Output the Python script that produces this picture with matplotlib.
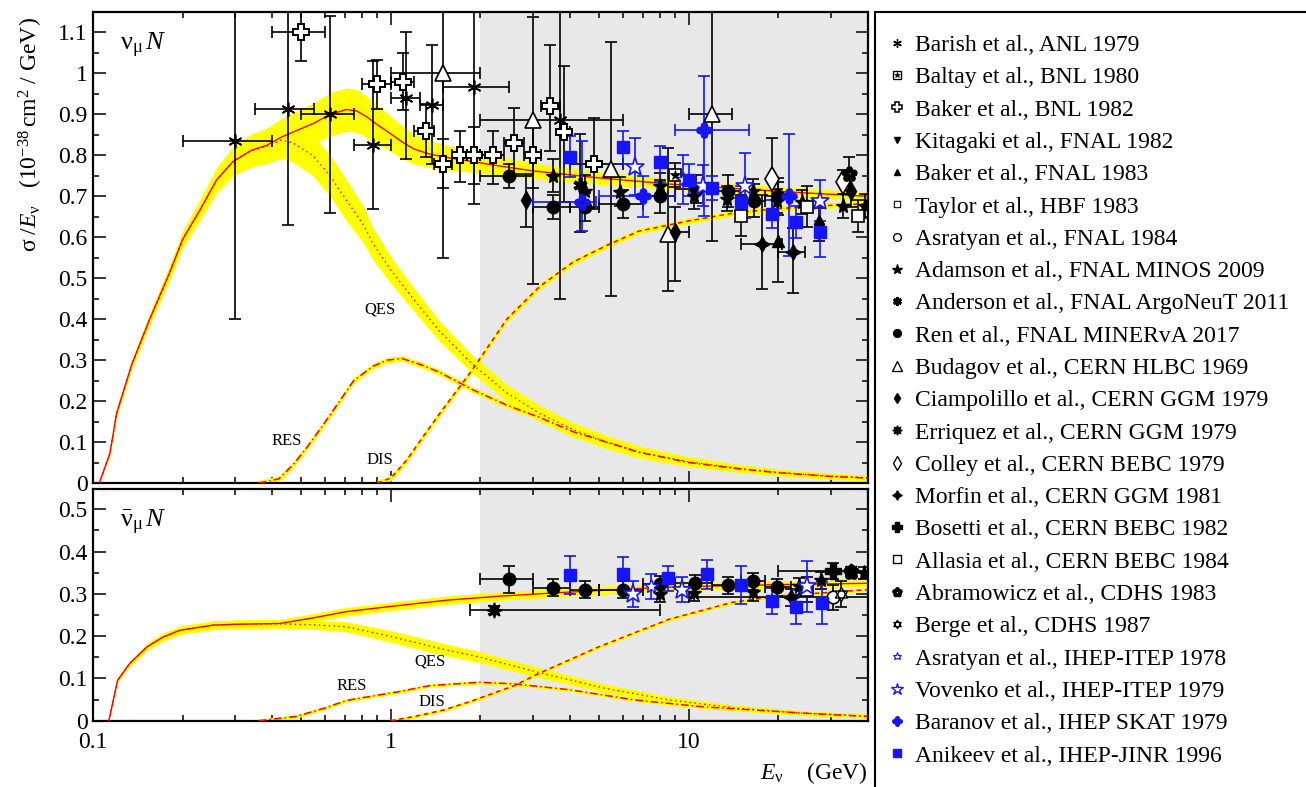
import numpy as np
import matplotlib
matplotlib.use('Agg')
import matplotlib.pyplot as plt
from matplotlib.path import Path
from matplotlib.lines import Line2D
from matplotlib.patches import Rectangle
from matplotlib.ticker import FixedLocator, FuncFormatter, NullFormatter, LogLocator

plt.rcParams['font.family'] = ['Liberation Serif', 'DejaVu Serif']
plt.rcParams['mathtext.fontset'] = 'custom'
plt.rcParams['mathtext.rm'] = 'Liberation Serif'
plt.rcParams['mathtext.it'] = 'Liberation Serif:italic'
plt.rcParams['mathtext.bf'] = 'Liberation Serif:bold'

# ---- theory curves, nu_mu N ----
tot_nu_E = [0.105, 0.114, 0.12, 0.135, 0.155, 0.18, 0.2, 0.23, 0.26, 0.295, 0.34, 0.384, 0.43,
            0.47, 0.55, 0.625, 0.71, 0.77, 0.83, 0.9, 0.98, 1.08, 1.19, 1.35, 1.54, 1.8, 2.27,
            3.0, 5.0, 8.6, 15, 25, 40]
tot_nu = [0, 0.073, 0.17, 0.29, 0.40, 0.51, 0.595, 0.67, 0.74, 0.785, 0.812, 0.825, 0.845,
          0.857, 0.878, 0.90, 0.912, 0.908, 0.894, 0.875, 0.857, 0.835, 0.816, 0.803, 0.795,
          0.787, 0.775, 0.762, 0.745, 0.73, 0.718, 0.708, 0.70]
tot_nu_bw = [0, 0.005, 0.008, 0.01, 0.013, 0.017, 0.02, 0.025, 0.03, 0.035, 0.04, 0.042, 0.045,
             0.047, 0.05, 0.053, 0.053, 0.052, 0.05, 0.047, 0.044, 0.04, 0.037, 0.033, 0.03,
             0.027, 0.023, 0.02, 0.016, 0.013, 0.012, 0.011, 0.01]

qes_nu_E = [0.105, 0.114, 0.12, 0.135, 0.155, 0.18, 0.2, 0.23, 0.26, 0.295, 0.34, 0.384, 0.43,
            0.47, 0.547, 0.625, 0.71, 0.81, 0.87, 1.0, 1.13, 1.3, 1.46, 1.88, 2.45, 3.16, 4.1,
            5.3, 6.8, 10, 15, 20, 30, 40]
qes_nu = [0, 0.073, 0.17, 0.29, 0.40, 0.51, 0.595, 0.67, 0.74, 0.785, 0.812, 0.822, 0.838,
          0.83, 0.80, 0.75, 0.69, 0.63, 0.585, 0.52, 0.47, 0.415, 0.37, 0.29, 0.22, 0.17, 0.13,
          0.10, 0.076, 0.052, 0.035, 0.026, 0.017, 0.013]
qes_nu_bw = [0, 0.005, 0.008, 0.01, 0.013, 0.017, 0.02, 0.025, 0.03, 0.035, 0.04, 0.042, 0.045,
             0.047, 0.05, 0.05, 0.05, 0.045, 0.04, 0.033, 0.03, 0.027, 0.025, 0.022, 0.021,
             0.02, 0.018, 0.016, 0.015, 0.012, 0.01, 0.008, 0.007, 0.006]

res_nu_E = [0.36, 0.42, 0.47, 0.52, 0.577, 0.63, 0.673, 0.75, 0.87, 0.97, 1.09, 1.25, 1.46,
            1.88, 2.45, 3.16, 4.1, 5.3, 6.8, 10, 15, 20, 30, 40]
res_nu = [0, 0.01, 0.045, 0.085, 0.13, 0.17, 0.20, 0.25, 0.285, 0.30, 0.304, 0.29, 0.27,
          0.228, 0.19, 0.16, 0.125, 0.10, 0.075, 0.05, 0.034, 0.025, 0.016, 0.012]

dis_nu_E = [0.9, 1.0, 1.13, 1.3, 1.46, 1.88, 2.45, 3.16, 4.1, 5.3, 6.8, 10, 14.4, 20, 30, 40]
dis_nu = [0, 0.012, 0.056, 0.119, 0.17, 0.277, 0.40, 0.48, 0.54, 0.58, 0.615, 0.64, 0.66,
          0.67, 0.678, 0.682]

# ---- theory curves, anti-nu_mu N ----
tot_nb_E = [0.113, 0.121, 0.133, 0.152, 0.172, 0.196, 0.253, 0.3, 0.424, 0.547, 0.71, 0.99,
            1.54, 2.27, 3.5, 5, 8.6, 15, 25, 40]
tot_nb = [0, 0.096, 0.136, 0.175, 0.198, 0.214, 0.226, 0.228, 0.23, 0.243, 0.258, 0.27,
          0.285, 0.294, 0.302, 0.308, 0.316, 0.32, 0.323, 0.325]
tot_nb_bw = [0, 0.004, 0.006, 0.008, 0.009, 0.01, 0.01, 0.01, 0.01, 0.01, 0.01, 0.01,
             0.01, 0.01, 0.01, 0.01, 0.009, 0.009, 0.008, 0.008]

qes_nb_E = [0.113, 0.121, 0.133, 0.152, 0.172, 0.196, 0.253, 0.3, 0.424, 0.547, 0.71, 0.99,
            1.54, 2.0, 3.1, 5.2, 8.6, 14.4, 24, 40]
qes_nb = [0, 0.096, 0.136, 0.175, 0.198, 0.214, 0.226, 0.228, 0.229, 0.227, 0.222, 0.20,
          0.167, 0.15, 0.115, 0.077, 0.049, 0.03, 0.018, 0.011]
qes_nb_bw = [0, 0.004, 0.006, 0.008, 0.009, 0.01, 0.01, 0.01, 0.01, 0.011, 0.012, 0.014,
             0.014, 0.013, 0.012, 0.01, 0.008, 0.007, 0.006, 0.005]

res_nb_E = [0.36, 0.48, 0.6, 0.71, 1.05, 1.35, 1.99, 2.6, 4.0, 6.6, 11.1, 24, 40]
res_nb = [0, 0.01, 0.03, 0.048, 0.068, 0.083, 0.091, 0.087, 0.073, 0.049, 0.033, 0.018, 0.01]

dis_nb_E = [1.0, 1.2, 1.5, 1.84, 2.27, 2.6, 3.1, 5, 8.6, 14, 20, 40]
dis_nb = [0, 0.01, 0.025, 0.045, 0.068, 0.083, 0.11, 0.175, 0.24, 0.28, 0.295, 0.31]

# ---- data: (E, sigma/E, E_low, E_high, err_down, err_up) ----
barish_nu = [(0.30, 0.836, 0.20, 0.40, 0.436, 0.40), (0.45, 0.914, 0.35, 0.55, 0.284, 0.30),
             (0.625, 0.90, 0.50, 0.75, 0.24, 0.24), (0.87, 0.826, 0.75, 1.0, 0.156, 0.204),
             (1.12, 0.94, 1.0, 1.25, 0.15, 0.16), (1.37, 0.924, 1.25, 1.5, 0.144, 0.146),
             (1.9, 0.966, 1.5, 2.5, 0.286, 0.30), (3.69, 0.887, 2.0, 6.0, 0.437, 0.30)]
baltay_nu = [(9.0, 0.752, 9.0, 9.0, 0.03, 0.03)]
baker82_nu = [(0.50, 1.10, 0.40, 0.60, 0.07, 0.05), (0.90, 0.973, 0.80, 1.0, 0.06, 0.06),
              (1.10, 0.98, 1.0, 1.2, 0.07, 0.07), (1.31, 0.86, 1.2, 1.4, 0.065, 0.065),
              (1.50, 0.78, 1.4, 1.6, 0.06, 0.06), (1.71, 0.80, 1.6, 1.8, 0.065, 0.06),
              (1.90, 0.80, 1.8, 2.0, 0.07, 0.07), (2.20, 0.80, 2.0, 2.4, 0.07, 0.06),
              (2.60, 0.83, 2.4, 2.8, 0.075, 0.085), (3.00, 0.80, 2.8, 3.2, 0.08, 0.08),
              (3.43, 0.92, 3.2, 3.7, 0.11, 0.15), (3.80, 0.857, 3.7, 4.0, 0.17, 0.16),
              (4.80, 0.78, 4.0, 6.0, 0.11, 0.11)]
baker83_nu = [(20.0, 0.59, 20.0, 20.0, 0.10, 0.145)]
minos_nu = [(3.5, 0.75, 3.5, 3.5, 0.04, 0.04), (4.5, 0.713, 4.5, 4.5, 0.04, 0.04),
            (5.9, 0.711, 5.9, 5.9, 0.035, 0.035), (8.0, 0.726, 8.0, 8.0, 0.03, 0.03),
            (10.4, 0.70, 10.4, 10.4, 0.03, 0.03), (13.4, 0.694, 13.4, 13.4, 0.03, 0.03),
            (16.4, 0.713, 16.4, 16.4, 0.03, 0.03), (19.8, 0.689, 19.8, 19.8, 0.03, 0.03),
            (24.0, 0.686, 24.0, 24.0, 0.03, 0.03), (33.0, 0.676, 33.0, 33.0, 0.03, 0.03),
            (39.0, 0.676, 39.0, 39.0, 0.03, 0.03)]
argoneut_nu = [(4.3, 0.728, 4.3, 4.3, 0.115, 0.125)]
minerva_nu = [(2.5, 0.75, 2.0, 3.0, 0.03, 0.03), (3.5, 0.674, 3.0, 4.0, 0.03, 0.03),
              (4.5, 0.674, 4.0, 5.0, 0.035, 0.035), (6.0, 0.681, 5.0, 7.0, 0.035, 0.035),
              (8.0, 0.70, 7.0, 9.0, 0.04, 0.04), (10.6, 0.718, 9.0, 12.0, 0.035, 0.035),
              (13.5, 0.713, 12.0, 15.0, 0.04, 0.04), (16.6, 0.689, 15.0, 18.0, 0.04, 0.04),
              (20.0, 0.70, 18.0, 22.0, 0.045, 0.045)]
budagov_nu = [(1.5, 1.0, 1.0, 2.0, 0.45, 0.2), (3.0, 0.887, 3.0, 3.0, 0.40, 0.25),
              (5.5, 0.767, 5.5, 5.5, 0.31, 0.31), (8.5, 0.608, 8.5, 8.5, 0.14, 0.21),
              (12.0, 0.90, 10.0, 14.0, 0.31, 0.3)]
ciampolillo_nu = [(2.85, 0.69, 2.85, 2.85, 0.065, 0.065), (9.0, 0.613, 9.0, 10.0, 0.12, 0.06),
                  (27.4, 0.632, 27.4, 27.4, 0.04, 0.04), (35.0, 0.713, 35.0, 35.0, 0.04, 0.04)]
colley_nu = [(19.0, 0.743, 19.0, 19.0, 0.1, 0.1), (33.0, 0.735, 33.0, 33.0, 0.03, 0.03)]
morfin_nu = [(17.6, 0.583, 15.0, 20.5, 0.11, 0.12), (22.4, 0.563, 20.0, 24.5, 0.1, 0.06)]
allasia_nu = [(15.0, 0.652, 15.0, 15.0, 0.05, 0.05), (25.0, 0.674, 25.0, 25.0, 0.05, 0.05),
              (37.0, 0.652, 37.0, 37.0, 0.04, 0.04)]
abramowicz_nu = [(34.6, 0.755, 34.6, 34.6, 0.04, 0.04)]
asratyan78_nu = [(9.6, 0.742, 9.6, 9.6, 0.06, 0.06)]
vovenko_nu = [(6.6, 0.772, 6.6, 6.6, 0.07, 0.07), (11.2, 0.726, 11.2, 11.2, 0.05, 0.05),
              (15.5, 0.726, 15.5, 15.5, 0.08, 0.08), (27.5, 0.689, 27.5, 27.5, 0.05, 0.05)]
baranov_nu = [(4.4, 0.686, 3.0, 4.9, 0.07, 0.15), (7.0, 0.70, 5.0, 9.0, 0.05, 0.05),
              (11.3, 0.863, 9.0, 16.0, 0.21, 0.13), (21.7, 0.70, 21.7, 21.7, 0.146, 0.153)]
anikeev_nu = [(4.0, 0.797, 4.0, 4.0, 0.05, 0.05), (6.0, 0.82, 6.0, 6.0, 0.04, 0.04),
              (8.0, 0.784, 8.0, 8.0, 0.05, 0.04), (10.0, 0.74, 10.0, 10.0, 0.04, 0.04),
              (12.0, 0.72, 12.0, 12.0, 0.03, 0.03), (15.0, 0.686, 15.0, 15.0, 0.04, 0.04),
              (19.0, 0.657, 19.0, 19.0, 0.035, 0.035), (23.0, 0.637, 23.0, 23.0, 0.04, 0.04),
              (27.5, 0.613, 27.5, 27.5, 0.06, 0.06)]

minerva_nb = [(2.5, 0.334, 2.0, 3.0, 0.033, 0.033), (3.5, 0.314, 3.0, 4.0, 0.02, 0.02),
              (4.5, 0.31, 4.0, 5.0, 0.02, 0.02), (6.0, 0.31, 5.0, 7.0, 0.02, 0.02),
              (8.0, 0.323, 7.0, 9.0, 0.02, 0.02), (10.5, 0.325, 9.0, 12.0, 0.02, 0.02),
              (13.5, 0.32, 12.0, 15.0, 0.02, 0.02), (16.4, 0.33, 15.0, 18.0, 0.02, 0.02),
              (19.8, 0.316, 18.0, 22.0, 0.02, 0.02)]
anikeev_nb = [(4.0, 0.344, 4.0, 4.0, 0.045, 0.045), (6.0, 0.347, 6.0, 6.0, 0.04, 0.04),
              (8.5, 0.337, 8.5, 8.5, 0.03, 0.03), (11.5, 0.346, 11.5, 11.5, 0.034, 0.034),
              (15.0, 0.32, 15.0, 15.0, 0.045, 0.045), (19.0, 0.283, 19.0, 19.0, 0.03, 0.03),
              (23.0, 0.269, 23.0, 23.0, 0.04, 0.04), (28.0, 0.278, 28.0, 28.0, 0.05, 0.05)]
vovenko_nb = [(6.5, 0.30, 6.5, 6.5, 0.03, 0.03), (9.5, 0.31, 9.5, 9.5, 0.03, 0.03),
              (25.0, 0.318, 25.0, 25.0, 0.06, 0.06)]
asratyan78_nb = [(7.5, 0.318, 7.5, 7.5, 0.03, 0.03)]
minos_nb = [(8.0, 0.30, 8.0, 8.0, 0.02, 0.02), (10.4, 0.302, 10.4, 10.4, 0.02, 0.02),
            (16.4, 0.304, 16.4, 16.4, 0.02, 0.02), (23.4, 0.318, 23.4, 23.4, 0.02, 0.02),
            (27.8, 0.332, 27.8, 27.8, 0.02, 0.02), (38.8, 0.349, 38.8, 38.8, 0.015, 0.015)]
erriquez_nb = [(2.22, 0.262, 1.84, 8.0, 0.01, 0.01), (35.0, 0.354, 35.0, 35.0, 0.01, 0.01)]
asratyan84_nb = [(30.5, 0.292, 10.0, 50.0, 0.03, 0.03)]
bosetti_nb = [(30.5, 0.354, 20.0, 50.0, 0.02, 0.02)]
abramowicz_nb = [(35.0, 0.352, 35.0, 35.0, 0.01, 0.01)]
berge_nb = [(32.5, 0.30, 32.5, 32.5, 0.03, 0.03)]
allasia_nb = [(25.0, 0.31, 25.0, 25.0, 0.03, 0.03)]
morfin_nb = [(22.0, 0.292, 22.0, 22.0, 0.02, 0.02)]

BLUE = '#1414ff'


def blob_path(n, off, r, rot=90):
    ang = np.deg2rad(rot + 360.0 * np.arange(n) / n)
    return Path.make_compound_path(*[Path.circle((off * np.cos(t), off * np.sin(t)), r) for t in ang])


def david_path():
    paths = []
    for a0 in (90, 270):
        ang = np.deg2rad(a0 + np.array([0, 120, 240, 0]))
        verts = np.column_stack([np.cos(ang), np.sin(ang)])
        paths.append(Path(verts, [Path.MOVETO, Path.LINETO, Path.LINETO, Path.CLOSEPOLY]))
    return Path.make_compound_path(*paths)


clover = blob_path(4, 0.55, 0.38)
flower = blob_path(5, 0.55, 0.32)
david = david_path()

# legend order: label, nu rows, nubar rows, marker styles (main, optional inner), error colour
experiments = [
    ('Barish et al., ANL 1979', barish_nu, [],
     [dict(marker=(6, 2, 0), ms=10, mec='k', mew=1.2)], 'k'),
    ('Baltay et al., BNL 1980', baltay_nu, [],
     [dict(marker='s', ms=9, mfc='w', mec='k', mew=1.2), dict(marker='*', ms=7, mfc='k', mec='k', mew=0.5)], 'k'),
    ('Baker et al., BNL 1982', baker82_nu, [],
     [dict(marker='P', ms=11, mfc='w', mec='k', mew=1.4)], 'k'),
    ('Kitagaki et al., FNAL 1982', [], [],
     [dict(marker='v', ms=8, mfc='k', mec='k')], 'k'),
    ('Baker et al., FNAL 1983', baker83_nu, [],
     [dict(marker='^', ms=8, mfc='k', mec='k')], 'k'),
    ('Taylor et al., HBF 1983', [], [],
     [dict(marker='s', ms=8, mfc='k', mec='k'), dict(marker='s', ms=4, mfc='w', mec='w')], 'k'),
    ('Asratyan et al., FNAL 1984', [], asratyan84_nb,
     [dict(marker='o', ms=9, mfc='w', mec='k', mew=1.2)], 'k'),
    ('Adamson et al., FNAL MINOS 2009', minos_nu, minos_nb,
     [dict(marker='*', ms=11, mfc='k', mec='k')], 'k'),
    ('Anderson et al., FNAL ArgoNeuT 2011', argoneut_nu, [],
     [dict(marker=(6, 2, 0), ms=10, mec='k', mew=2.6)], 'k'),
    ('Ren et al., FNAL MINERvA 2017', minerva_nu, minerva_nb,
     [dict(marker='o', ms=9, mfc='k', mec='k')], 'k'),
    ('Budagov et al., CERN HLBC 1969', budagov_nu, [],
     [dict(marker='^', ms=11, mfc='w', mec='k', mew=1.2)], 'k'),
    ('Ciampolillo et al., CERN GGM 1979', ciampolillo_nu, [],
     [dict(marker='d', ms=9, mfc='k', mec='k')], 'k'),
    ('Erriquez et al., CERN GGM 1979', [], erriquez_nb,
     [dict(marker=(8, 1, 0), ms=11, mfc='k', mec='k')], 'k'),
    ('Colley et al., CERN BEBC 1979', colley_nu, [],
     [dict(marker='d', ms=12, mfc='w', mec='k', mew=1.2)], 'k'),
    ('Morfin et al., CERN GGM 1981', morfin_nu, morfin_nb,
     [dict(marker=(4, 1, 0), ms=11, mfc='k', mec='k')], 'k'),
    ('Bosetti et al., CERN BEBC 1982', [], bosetti_nb,
     [dict(marker='P', ms=11, mfc='k', mec='k')], 'k'),
    ('Allasia et al., CERN BEBC 1984', allasia_nu, allasia_nb,
     [dict(marker='s', ms=9, mfc='w', mec='k', mew=1.2)], 'k'),
    ('Abramowicz et al., CDHS 1983', abramowicz_nu, abramowicz_nb,
     [dict(marker=flower, ms=11, mfc='k', mec='k')], 'k'),
    ('Berge et al., CDHS 1987', [], berge_nb,
     [dict(marker=david, ms=10, mfc='w', mec='k', mew=1.0)], 'k'),
    ('Asratyan et al., IHEP-ITEP 1978', asratyan78_nu, asratyan78_nb,
     [dict(marker='*', ms=10, mfc='w', mec=BLUE, mew=1.0)], BLUE),
    ('Vovenko et al., IHEP-ITEP 1979', vovenko_nu, vovenko_nb,
     [dict(marker='*', ms=14, mfc='w', mec=BLUE, mew=1.2)], BLUE),
    ('Baranov et al., IHEP SKAT 1979', baranov_nu, [],
     [dict(marker=clover, ms=11, mfc=BLUE, mec=BLUE)], BLUE),
    ('Anikeev et al., IHEP-JINR 1996', anikeev_nu, anikeev_nb,
     [dict(marker='s', ms=9, mfc=BLUE, mec=BLUE)], BLUE),
]


def plot_points(ax, rows, marks, ecol):
    if len(rows) == 0:
        return
    a = np.array(rows, dtype=float)
    E, v = a[:, 0], a[:, 1]
    ax.errorbar(E, v, yerr=np.vstack([a[:, 4], a[:, 5]]), fmt='none', ecolor=ecol,
                elinewidth=1.2, capsize=4, capthick=1.2, zorder=4)
    wide = a[:, 3] > a[:, 2]
    if wide.any():
        ax.errorbar(E[wide], v[wide], xerr=np.vstack([E[wide] - a[wide, 2], a[wide, 3] - E[wide]]),
                    fmt='none', ecolor=ecol, elinewidth=1.2, capsize=4, capthick=1.2, zorder=4)
    for k, m in enumerate(marks):
        ax.plot(E, v, ls='none', zorder=5 + k, **m)


def band(ax, E, v, bw):
    v = np.array(v)
    bw = np.array(bw)
    ax.fill_between(E, v - bw, v + bw, color='#ffff00', lw=0, zorder=2)


def thin_band(ax, E, v, w):
    v = np.array(v)
    ax.fill_between(E, v - w, v + w, color='#ffff00', lw=0, zorder=2)


fig = plt.figure(figsize=(13.06, 7.87), dpi=100)
W, H = 1306.0, 787.0
ax1 = fig.add_axes([93 / W, 1 - 483 / H, 775 / W, 471 / H])
ax2 = fig.add_axes([93 / W, 1 - 720.7 / H, 775 / W, 231.7 / H])

for ax in (ax1, ax2):
    ax.set_xscale('log')
    ax.set_xlim(0.1, 40)
    ax.axvspan(2, 40, color='#e8e8e8', lw=0, zorder=0)
    ax.xaxis.set_major_locator(FixedLocator([0.1, 1, 10]))
    ax.xaxis.set_minor_locator(LogLocator(base=10, subs=np.arange(2, 10)))
    ax.xaxis.set_minor_formatter(NullFormatter())
    ax.tick_params(which='both', direction='in', top=True, right=True, labelsize=17, width=1.1)
    ax.tick_params(which='major', length=9)
    ax.tick_params(which='minor', length=4.5)
    ax.tick_params(axis='y', pad=4)
    ax.tick_params(axis='x', pad=8)
    for s in ax.spines.values():
        s.set_linewidth(1.6)
    ax.yaxis.set_major_formatter(FuncFormatter(lambda y, p: f'{y:g}'))

ax1.set_ylim(0, 1.15)
ax1.yaxis.set_major_locator(FixedLocator(np.round(np.arange(0, 1.11, 0.1), 2)))
ax1.yaxis.set_minor_locator(FixedLocator(np.round(np.arange(0.05, 1.15, 0.1), 3)))
ax1.xaxis.set_major_formatter(NullFormatter())

ax2.set_ylim(0, 0.548)
ax2.yaxis.set_major_locator(FixedLocator(np.round(np.arange(0, 0.51, 0.1), 2)))
ax2.yaxis.set_minor_locator(FixedLocator(np.round(np.arange(0.05, 0.55, 0.1), 3)))
ax2.xaxis.set_major_formatter(FuncFormatter(lambda x, p: f'{x:g}'))

# theory curves
band(ax1, tot_nu_E, tot_nu, tot_nu_bw)
band(ax1, qes_nu_E, qes_nu, qes_nu_bw)
thin_band(ax1, res_nu_E, res_nu, 0.007)
thin_band(ax1, dis_nu_E, dis_nu, 0.007)
ax1.plot(tot_nu_E, tot_nu, color='red', lw=1.0, zorder=3)
ax1.plot(qes_nu_E, qes_nu, color='red', lw=1.0, ls=(0, (1, 2.5)), zorder=3)
ax1.plot(res_nu_E, res_nu, color='red', lw=1.1, ls=(0, (5, 2, 1, 2)), zorder=3)
ax1.plot(dis_nu_E, dis_nu, color='red', lw=1.1, ls=(0, (3, 2.5)), zorder=3)

band(ax2, tot_nb_E, tot_nb, tot_nb_bw)
band(ax2, qes_nb_E, qes_nb, qes_nb_bw)
thin_band(ax2, res_nb_E, res_nb, 0.004)
thin_band(ax2, dis_nb_E, dis_nb, 0.004)
ax2.plot(tot_nb_E, tot_nb, color='red', lw=1.0, zorder=3)
ax2.plot(qes_nb_E, qes_nb, color='red', lw=1.0, ls=(0, (1, 2.5)), zorder=3)
ax2.plot(res_nb_E, res_nb, color='red', lw=1.1, ls=(0, (5, 2, 1, 2)), zorder=3)
ax2.plot(dis_nb_E, dis_nb, color='red', lw=1.1, ls=(0, (3, 2.5)), zorder=3)

ax1.text(0.92, 0.424, 'QES', fontsize=12, ha='center', va='center')
ax1.text(0.448, 0.103, 'RES', fontsize=12, ha='center', va='center')
ax1.text(0.92, 0.056, 'DIS', fontsize=12, ha='center', va='center')
ax2.text(1.35, 0.139, 'QES', fontsize=12, ha='center', va='center')
ax2.text(0.74, 0.082, 'RES', fontsize=12, ha='center', va='center')
ax2.text(1.37, 0.044, 'DIS', fontsize=12, ha='center', va='center')

# experimental points
handles, labels = [], []
for label, nu_rows, nb_rows, marks, ecol in experiments:
    plot_points(ax1, nu_rows, marks, ecol)
    plot_points(ax2, nb_rows, marks, ecol)
    hs = []
    for m in marks:
        mm = dict(m)
        mm['ms'] = m['ms'] * 0.62
        if 'mew' in mm:
            mm['mew'] = m['mew'] * 0.8
        hs.append(Line2D([], [], ls='none', **mm))
    handles.append(tuple(hs) if len(hs) > 1 else hs[0])
    labels.append(label)

ax1.text(0.035, 0.93, r'$\mathrm{\nu}_\mathrm{\mu}\,N$', transform=ax1.transAxes,
         fontsize=19, ha='left', va='center')
ax2.text(0.035, 0.857, r'$\bar{\mathrm{\nu}}_\mathrm{\mu}\,N$', transform=ax2.transAxes,
         fontsize=19, ha='left', va='center')

ax1.set_ylabel(r'$\mathrm{\sigma}\;/E_\mathrm{\nu}$   $(10^{-38}\,\mathrm{cm}^2$ / GeV)', fontsize=17)
ax1.yaxis.set_label_coords(-0.062, 0.74)
ax2.text(1.0, -0.225, r'$E_\mathrm{\nu}$    (GeV)', transform=ax2.transAxes, fontsize=17,
         ha='right', va='center')

fig.legend(handles, labels, loc='upper left', bbox_to_anchor=(885 / W, 1 - 34.5 / H),
           frameon=False, fontsize=17, handlelength=1.0, handletextpad=0.27,
           labelspacing=0.456, borderpad=0, borderaxespad=0)
fig.add_artist(Rectangle((875 / W, -0.1), 1.0, 1 - 12 / H + 0.1, transform=fig.transFigure,
                         fill=False, lw=1.5, ec='k'))

fig.savefig('out.png', dpi=100)
